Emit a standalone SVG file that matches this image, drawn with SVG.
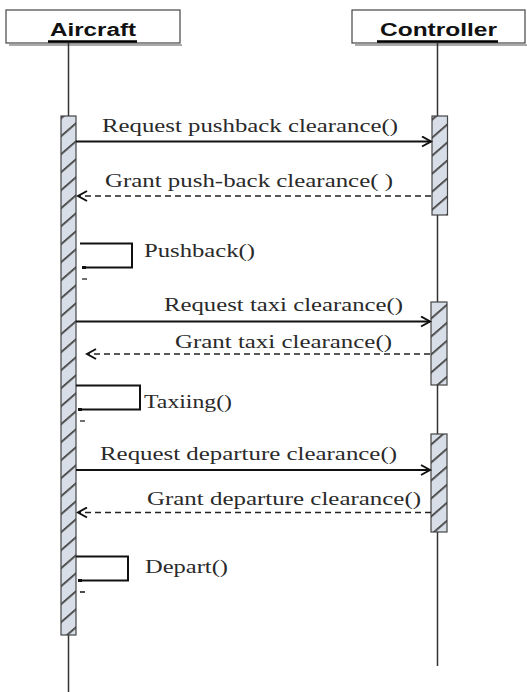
<svg xmlns="http://www.w3.org/2000/svg" width="527" height="692" viewBox="0 0 527 692">
<style>
.hdr{fill:#fff;stroke:#444;stroke-width:1.2}
.shadow{fill:none;stroke:#aaa;stroke-width:2}
.htxt{font-family:"Liberation Sans",Arial,sans-serif;font-weight:bold;font-size:18px;fill:#111}
.uline{stroke:#000;stroke-width:2.5}
.life{stroke:#333;stroke-width:1.5;fill:none}
.act{fill:url(#hatch);stroke:#444;stroke-width:1.2}
.msg{stroke:#111;stroke-width:2;fill:none}
.ret{stroke:#222;stroke-width:1.5;fill:none;stroke-dasharray:6 4}
.self{stroke:#111;stroke-width:2;fill:none}
.lbl{font-family:"Liberation Serif","Times New Roman",serif;font-size:18px;fill:#2a2a2a}
</style>
<defs>
<pattern id="hatch" patternUnits="userSpaceOnUse" width="10" height="18" patternTransform="skewY(-41)">
<rect width="10" height="18" fill="#d7dee8"/>
<rect x="0" y="8" width="10" height="2.6" fill="#505050"/>
</pattern>
<marker id="open" markerWidth="12" markerHeight="12" refX="10" refY="6" orient="auto" markerUnits="userSpaceOnUse">
<path d="M1,1 L10,6 L1,11" fill="none" stroke="#111" stroke-width="2"/>
</marker>
<marker id="small" markerWidth="6" markerHeight="6" refX="3" refY="3" orient="auto" markerUnits="userSpaceOnUse">
<rect x="1" y="1.5" width="4" height="3" fill="#111"/>
</marker>
</defs>

<g id="aircraft">
<line class="shadow" x1="9" y1="45" x2="182" y2="45"/>
<rect class="hdr" x="6" y="10" width="174" height="33"/>
<text class="htxt" x="50" y="36" textLength="86" lengthAdjust="spacingAndGlyphs">Aircraft</text>
<line class="uline" x1="48" y1="41.5" x2="137" y2="41.5"/>
<line class="life" x1="68.5" y1="43" x2="68.5" y2="692"/>
<rect class="act" x="61" y="116" width="15" height="519"/>
</g>

<g id="controller">
<line class="shadow" x1="355" y1="45" x2="527" y2="45"/>
<rect class="hdr" x="352" y="10" width="173" height="33"/>
<text class="htxt" x="380" y="36" textLength="117" lengthAdjust="spacingAndGlyphs">Controller</text>
<line class="uline" x1="377" y1="41.5" x2="498" y2="41.5"/>
<line class="life" x1="437.5" y1="43" x2="437.5" y2="666"/>
<rect class="act" x="432" y="116" width="15.5" height="99"/>
<rect class="act" x="431" y="302" width="16" height="83"/>
<rect class="act" x="431" y="434" width="16" height="98"/>
</g>

<g id="connectors">
<line class="msg" x1="76" y1="141.5" x2="431" y2="141.5" marker-end="url(#open)"/>
<line class="ret" x1="431" y1="196" x2="78" y2="196" marker-end="url(#open)"/>
<path class="self" d="M80,243.5 H132 V267.5 H84" marker-end="url(#small)"/>
<line x1="82" y1="279" x2="87" y2="279" stroke="#111" stroke-width="1.2"/>
<line class="msg" x1="76" y1="321.5" x2="430" y2="321.5" marker-end="url(#open)"/>
<line class="ret" x1="430" y1="354" x2="87" y2="354" marker-end="url(#open)"/>
<path class="self" d="M76,385.5 H140 V409.5 H80" marker-end="url(#small)"/>
<line x1="80" y1="421" x2="85" y2="421" stroke="#111" stroke-width="1.2"/>
<line class="msg" x1="76" y1="470" x2="430" y2="470" marker-end="url(#open)"/>
<line class="ret" x1="431" y1="512.5" x2="78" y2="512.5" marker-end="url(#open)"/>
<path class="self" d="M76,556.5 H128 V580.5 H80" marker-end="url(#small)"/>
<line x1="80" y1="592" x2="85" y2="592" stroke="#111" stroke-width="1.5"/>
</g>

<g id="labels">
<text class="lbl" x="102" y="131.5" textLength="296" lengthAdjust="spacingAndGlyphs">Request pushback clearance()</text>
<text class="lbl" x="105" y="187" textLength="288" lengthAdjust="spacingAndGlyphs">Grant push-back clearance( )</text>
<text class="lbl" x="144" y="257" textLength="111" lengthAdjust="spacingAndGlyphs">Pushback()</text>
<text class="lbl" x="164" y="310.5" textLength="239" lengthAdjust="spacingAndGlyphs">Request taxi clearance()</text>
<text class="lbl" x="175" y="348" textLength="217" lengthAdjust="spacingAndGlyphs">Grant taxi clearance()</text>
<text class="lbl" x="144" y="407.5" textLength="88" lengthAdjust="spacingAndGlyphs">Taxiing()</text>
<text class="lbl" x="100" y="460" textLength="297" lengthAdjust="spacingAndGlyphs">Request departure clearance()</text>
<text class="lbl" x="147" y="504.5" textLength="274" lengthAdjust="spacingAndGlyphs">Grant departure clearance()</text>
<text class="lbl" x="145" y="573" textLength="83" lengthAdjust="spacingAndGlyphs">Depart()</text>
</g>
</svg>
